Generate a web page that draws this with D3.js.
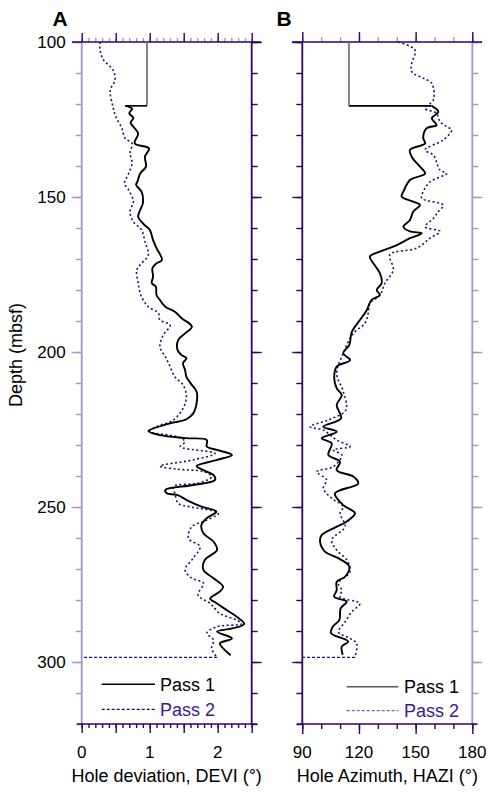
<!DOCTYPE html>
<html>
<head>
<meta charset="utf-8">
<script src="https://cdn.jsdelivr.net/npm/d3@7"></script>
<style>
  body { margin: 0; background: #fff; }
  svg { display: block; font-family: "Liberation Sans", Arial, sans-serif; }
</style>
</head>
<body>
<svg id="chart" width="495" height="794"></svg>
<script>
// [depth (mbsf), value]
const pass1Devi = [
  [120.6,0.64],[121.5,0.74],[123,0.70],[124.5,0.76],[126,0.72],[129.5,0.83],[132.7,0.78],[134.3,0.99],
  [137,0.93],[140.2,0.945],[142.4,0.86],[145,0.82],[146.1,0.80],[148.3,0.88],[152,0.90],[154.2,0.86],
  [156.4,0.83],[158.5,0.90],[160.6,1.00],[163.9,1.05],[166.5,1.10],[170.3,1.18],[171.4,1.10],[173,1.04],
  [175.7,1.05],[177.8,1.03],[178.9,1.09],[181.6,1.10],[183.2,1.15],[185.4,1.23],[187,1.37],[189.1,1.47],
  [191.8,1.62],[194,1.52],[196.1,1.42],[199.4,1.41],[201,1.47],[202,1.54],[203.6,1.49],[205.8,1.52],
  [208,1.54],[210.6,1.62],[212.8,1.69],[216.5,1.69],[219.8,1.64],[221.7,1.54],[223,1.30],[225.5,0.98],
  [226.8,1.15],[227.8,1.54],[228.4,1.84],[230.5,1.84],[231.6,1.99],[233.2,2.21],[234.8,1.99],[236.8,1.69],
  [238.1,1.79],[239.7,1.94],[241.3,1.96],[242.9,1.64],[244.5,1.23],[245.6,1.25],[246.1,1.40],[248.3,1.59],
  [249.9,1.76],[251.5,1.98],[253.6,1.84],[255.8,1.76],[258.5,1.79],[261.2,1.94],[263.9,1.99],[267.1,1.81],
  [270.3,1.79],[273,1.94],[275.7,2.08],[277.3,2.03],[279.5,1.89],[281.1,1.99],[283.2,2.13],[285.4,2.28],
  [287.7,2.39],[289.1,2.23],[290.2,1.99],[292.4,2.21],[294,2.03],[295.6,2.08],[297.8,2.19]
];
const pass2Devi = [
  [100,0.27],[102.6,0.27],[105.8,0.32],[109,0.46],[112.3,0.49],[115.5,0.42],[120.9,0.46],[124,0.50],
  [127.8,0.59],[131.1,0.64],[132.7,0.74],[135.9,0.71],[139.1,0.74],[142.4,0.69],[145.6,0.63],[147.7,0.69],
  [151.5,0.76],[154.7,0.71],[158,0.76],[160.6,0.88],[164.4,0.93],[168.7,0.98],[171.4,0.88],[173.5,0.81],
  [177.8,0.83],[182.2,0.88],[185.4,0.98],[187.5,1.13],[189.7,1.15],[191.3,1.30],[194.5,1.20],[198.3,1.15],
  [201.5,1.23],[204.7,1.30],[208,1.37],[210.6,1.49],[214.4,1.54],[218.2,1.49],[221.9,1.35],[224.1,1.10],
  [225.7,1.00],[227.3,1.40],[228.9,1.52],[230.5,1.45],[232.7,1.96],[234.8,1.64],[236.8,1.15],[237.8,1.40],
  [238.6,1.79],[240.2,1.91],[242.2,1.74],[243.4,1.35],[245.6,1.37],[248.8,1.42],[249.9,1.59],[252,2.01],
  [254.7,1.79],[256.3,1.62],[260.1,1.57],[262.8,1.74],[266.5,1.64],[270.3,1.52],[273,1.62],[274.6,1.79],
  [278.4,1.71],[281.1,1.89],[284.3,2.03],[286.5,2.28],[287.7,2.35],[288.6,1.99],[290.7,1.84],[292.9,1.94],
  [295.6,1.91],[298.5,1.99]
];
const pass1Hazi = [
  [120.6,158.5],[122.5,162],[124.6,158.5],[126.8,161.1],[127.8,155.9],[131,154],[132.7,155],[134.8,147],
  [137,147.9],[140.2,152.3],[142.4,155],[144.5,147],[148.3,143.5],[149.9,142.6],[151.5,148.8],[152.6,152.3],
  [154.7,148.8],[157.4,147],[159.6,143.5],[161.1,147],[161.7,153.2],[163.3,147],[165.5,140],[167.6,131.1],
  [169.2,125.8],[171.4,127.6],[174.6,131.1],[177.8,132],[180,129.4],[181.6,131.1],[183.2,126.7],[186.5,124.1],
  [189.7,120.5],[193.5,116.2],[197.7,114.9],[200.4,111.7],[202.6,115.3],[204.7,108.2],[208.5,106.9],[211.7,108.2],
  [213.9,110.9],[217.1,108.2],[221.4,110.5],[224.1,101.1],[225.7,108.2],[227.8,100.3],[229.5,105.6],[233.2,103.8],
  [235.4,110],[238.1,108.2],[240.2,117],[242.4,119.6],[245.6,107.3],[249.4,111.7],[252,117.9],[254.7,113.5],
  [256.9,106.4],[259,100.3],[261.2,99.4],[264.4,102],[266.5,109.1],[269.2,114.9],[272.5,112.6],[274.1,108.2],
  [276.8,108.2],[279,106.9],[280.5,113.5],[282.7,110.3],[286.5,109.6],[288.6,106.1],[290.7,105.2],[293.4,114.3],
  [295,110.9],[297.7,111.4]
];
const pass2Hazi = [
  [100,140.8],[102.6,149.7],[106.9,147.9],[109.6,147.9],[111.7,154.1],[113.3,158.5],[118.7,159.4],[121.4,155],
  [123,161.1],[125.7,162.9],[127.3,166.4],[128.4,169.1],[131.6,164.6],[134.8,155],[136.5,159.4],[141.3,162.9],
  [142.4,166.4],[145.1,157.6],[148.3,154],[150.4,153.2],[152.6,164.6],[154.7,162],[156.9,159.4],[159.6,155],
  [161.1,162.9],[163.3,157.6],[166.5,150.6],[168.6,136.4],[173.5,138.2],[177.8,133.8],[181.6,131.1],[184.3,125.8],
  [187.5,124.9],[190.7,123.2],[194,117],[200.4,111.7],[206.9,108.2],[212.8,111.7],[218.7,113.1],[221.9,103.8],
  [224.1,94.1],[225.2,101.1],[228.4,108.2],[230.5,115.3],[231.6,106.4],[233.2,110.9],[237,106.4],[238.6,97.6],
  [241.3,102.9],[244,101.1],[247.2,105.6],[249.9,111.7],[252,110],[256.3,112.6],[260.6,105.6],[263.9,108.2],
  [267.1,113.5],[270.9,115.3],[274.6,109.1],[276.8,110.9],[279,110],[281.1,120.5],[283.8,116.2],[287.1,112.6],
  [290.3,109.1],[292.4,115.3],[294,118.8],[298.5,117.9]
];
// value logged above the first reading (drawn as a step), and where pass 2 is closed off
const casingTop = 100, logTop = 120.6, tailDepth = 298.5;
const casingDevi = 0.96, casingHazi = 114.7;

const depthTicks = d3.range(100, 321, 10);
const depthLabels = [100, 150, 200, 250, 300];
const deviMinor = d3.range(0, 2.51, 0.1);
const deviMajor = [0, 0.5, 1, 1.5, 2, 2.5];
const deviLabels = [0, 1, 2];
const haziMinor = d3.range(90, 181, 10);
const haziMajor = [90, 120, 150, 180];

const lav = "#9a9acc", dark = "#330066", p2 = "#2e0a6e";

const svg = d3.select("#chart");
const y = d3.scaleLinear().domain([100, 320]).range([42, 724]);
const xA = d3.scaleLinear().domain([0, 2.5]).range([81.7, 251.7]);
const xB = d3.scaleLinear().domain([90, 180]).range([302.3, 472.3]);

const drawVertical = (x, side, color, withLabels) => {
  const mk = side === "left" ? d3.axisLeft : d3.axisRight;
  const g = svg.append("g").attr("transform", `translate(${x},0)`);
  g.append("g").call(mk(y).tickValues(depthTicks).tickSize(6).tickFormat(""));
  g.append("g").call(mk(y).tickValues(depthLabels).tickSize(10)
    .tickFormat(withLabels ? d3.format("d") : "").tickPadding(6));
  g.selectAll(".domain").remove();
  g.selectAll("line").attr("stroke", color).attr("stroke-width", 1.4);
  g.selectAll("text").attr("fill", "#000").attr("font-size", 17)
    .attr("font-family", "Liberation Sans, Arial, sans-serif");
  svg.append("line").attr("x1", x).attr("x2", x).attr("y1", y(100)).attr("y2", y(320))
    .attr("stroke", color).attr("stroke-width", 1.8);
};

const drawHorizontal = (x, minor, major, yPos, top, x0, x1, mSize, MSize) => {
  const mk = top ? d3.axisTop : d3.axisBottom;
  const g = svg.append("g").attr("transform", `translate(0,${yPos})`);
  g.append("g").call(mk(x).tickValues(minor).tickSize(mSize).tickFormat(""))
    .selectAll("line").attr("stroke", top ? lav : dark);
  g.append("g").call(mk(x).tickValues(major).tickSize(MSize).tickFormat(""))
    .selectAll("line").attr("stroke", dark);
  g.selectAll(".domain").remove();
  g.selectAll("line").attr("stroke-width", 1.4);
  svg.append("line").attr("x1", x0).attr("x2", x1).attr("y1", yPos).attr("y2", yPos)
    .attr("stroke", dark).attr("stroke-width", 1.6);
};

// panel A frame
drawVertical(xA(0), "left", lav, true);
drawVertical(xA(2.5), "right", dark, false);
drawHorizontal(xA, deviMinor, deviMajor, y(100), true, 72, 261, 4, 9);
drawHorizontal(xA, deviMinor, deviMajor, y(320), false, 77, 257, 4, 9);
// panel B frame
drawVertical(xB(90), "left", dark, false);
drawVertical(xB(180), "right", lav, false);
drawHorizontal(xB, haziMinor, haziMajor, y(100), true, 292, 482, 5, 10);
drawHorizontal(xB, haziMinor, haziMajor, y(320), false, 297, 477, 5, 10);

// tick labels on the bottom
svg.selectAll(".lblA").data(deviLabels).enter().append("text")
  .attr("x", d => xA(d)).attr("y", 757.5).attr("text-anchor", "middle")
  .attr("font-size", 17).text(d => d);
svg.selectAll(".lblB").data(haziMajor).enter().append("text")
  .attr("x", d => xB(d)).attr("y", 757.5).attr("text-anchor", "middle")
  .attr("font-size", 17).text(d => d);

// axis titles
svg.append("text").attr("x", 166.7).attr("y", 781.5).attr("text-anchor", "middle")
  .attr("font-size", 18).text("Hole deviation, DEVI (°)");
svg.append("text").attr("x", 387.3).attr("y", 781.5).attr("text-anchor", "middle")
  .attr("font-size", 18).text("Hole Azimuth, HAZI (°)");
svg.append("text").attr("transform", "translate(22,355) rotate(-90)").attr("text-anchor", "middle")
  .attr("font-size", 18).text("Depth (mbsf)");
svg.append("text").attr("x", 52.5).attr("y", 26).attr("font-size", 21).attr("font-weight", "bold").text("A");
svg.append("text").attr("x", 276.5).attr("y", 26).attr("font-size", 21).attr("font-weight", "bold").text("B");

// curves
const drawPanel = (x, p1, p2data, casingVal, tailEnd, casingColor) => {
  const line = d3.line().x(d => x(d[1])).y(d => y(d[0])).curve(d3.curveCatmullRom.alpha(0.5));
  const straight = d3.line().x(d => x(d[1])).y(d => y(d[0]));
  svg.append("path").datum(p2data).attr("d", line).attr("fill", "none")
    .attr("stroke", p2).attr("stroke-width", 1.6).attr("stroke-dasharray", "2,2.5");
  const last = p2data[p2data.length - 1];
  svg.append("path").datum([[tailDepth, last[1]], [tailDepth, tailEnd]]).attr("d", straight)
    .attr("fill", "none").attr("stroke", p2).attr("stroke-width", 1.1).attr("stroke-dasharray", "3,2");
  svg.append("path").datum([[casingTop, casingVal], [logTop, casingVal]]).attr("d", straight)
    .attr("fill", "none").attr("stroke", casingColor).attr("stroke-width", 1.6);
  svg.append("path").datum([[logTop, casingVal], p1[0]]).attr("d", straight)
    .attr("fill", "none").attr("stroke", "#000").attr("stroke-width", 1.6);
  svg.append("path").datum(p1).attr("d", line).attr("fill", "none")
    .attr("stroke", "#000").attr("stroke-width", 1.9);
};
drawPanel(xA, pass1Devi, pass2Devi, casingDevi, 0, "#666");
drawPanel(xB, pass1Hazi, pass2Hazi, casingHazi, 90, "#666");

// legends
const legend = (x0, x1, tx, y1, y2, c1, c2) => {
  svg.append("line").attr("x1", x0).attr("x2", x1).attr("y1", y1).attr("y2", y1)
    .attr("stroke", c1).attr("stroke-width", 1.4);
  svg.append("text").attr("x", tx).attr("y", y1 + 6.5).attr("font-size", 18).attr("fill", "#000").text("Pass 1");
  svg.append("line").attr("x1", x0).attr("x2", x1).attr("y1", y2).attr("y2", y2)
    .attr("stroke", c2).attr("stroke-width", 1.2).attr("stroke-dasharray", "3,2");
  svg.append("text").attr("x", tx).attr("y", y2 + 6.5).attr("font-size", 18).attr("fill", "#3a1890").text("Pass 2");
};
legend(101.7, 155, 160, 684.3, 709.3, "#000", dark);
legend(346.7, 398.3, 404, 686.7, 710.7, "#555", "#7060b8");
</script>
</body>
</html>
